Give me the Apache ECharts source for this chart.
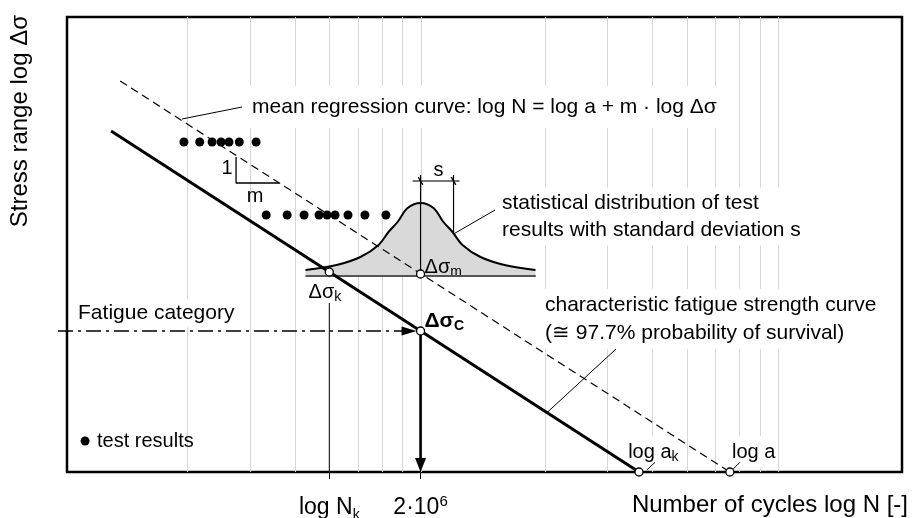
<!DOCTYPE html>
<html>
<head>
<meta charset="utf-8">
<title>Fatigue strength curve</title>
<script src="https://cdn.jsdelivr.net/npm/echarts@6/dist/echarts.min.js"></script>
<style>
  html, body { margin: 0; padding: 0; background: #fff; }
  #chart { width: 912px; height: 518px; }
</style>
</head>
<body>
<div id="chart"></div>
<script>
// x: number of cycles N on a log axis (schematic decades), y: log Δσ in schematic units
const gridLineValues = [2, 3, 4, 5, 6, 7, 8, 9, 20, 30, 40, 50, 60, 70, 80, 90];
const xTickValues = [5, 9];
const xTickLabels = ['{n|log N}{sub|k}', '{n|2·10}{sup|6}'];

// test results at two stress levels
const upperLevelN = [1.96, 2.17, 2.35, 2.49, 2.62, 2.8, 3.12];
const upperLevelStress = 330;
const lowerLevelN = [3.33, 3.81, 4.25, 4.68, 4.93, 5.19, 5.64, 6.29, 7.2];
const lowerLevelStress = 257;

// S-N lines
const meanCurve = [[1.3, 391], [66, 0]];
const characteristicCurve = [[1.226, 341], [36.75, 0]];

// distribution of test results around the mean curve at 2·10^6
const bellN = [4.29, 5.24, 6.11, 6.87, 7.32, 7.76, 8.28, 9, 9.78, 10.43, 11.06, 11.79, 13.24, 15.46, 18.87];
const bellStress = [202, 207, 215, 227, 240, 250, 264, 269, 264, 250, 240, 227, 215, 207, 202];
const bellBase = 196;
const bellBaseN = [4.29, 18.9];

// marked points: Δσk, Δσm, Δσc, log ak, log a
const markedPoints = [[5, 200], [9, 198], [9, 141], [36.75, 0], [66, 0]];

// slope triangle 1 : m
const slopeTriangle = [[2.742, 315], [2.742, 289], [3.618, 289]];

// standard deviation s
const sLines = [[[9, 198], [9, 297]], [[11.13, 240], [11.13, 297]]];
const sDimension = [[8.55, 291], [11.57, 291]];
const sMarkers = [[9, 291], [11.13, 291]];

// fatigue category: horizontal to Δσc, then down to 2·10^6
const arrows = [
  { from: [0.871, 141], to: [9, 141] },
  { from: [9, 141], to: [9, 0] }
];
const nkLine = [[5, 169], [5, 0]];

// leader lines from the notes to the curves
const leaders = [
  [[1.936, 353], [2.85, 365]],
  [[11.13, 238], [14.54, 262]],
  [[20.32, 59.4], [31.7, 123]],
  [[38.64, 2], [40.75, 9.7]],
  [[67.46, 3], [70.43, 9.7]]
];

const legendPoint = [1.037, 31];

const FONT = '"Liberation Sans", Arial, Helvetica, sans-serif';

const rich = {
  n: { fontFamily: FONT, fontSize: 23, lineHeight: 28, color: '#000' },
  sub: { fontFamily: FONT, fontSize: 14, lineHeight: 16, verticalAlign: 'bottom' },
  sup: { fontFamily: FONT, fontSize: 15, lineHeight: 6, verticalAlign: 'top', color: '#000' },
  b: { fontFamily: FONT, fontSize: 21, lineHeight: 24, fontWeight: 'bold' },
  bsub: { fontFamily: FONT, fontSize: 14, lineHeight: 14, fontWeight: 'bold', verticalAlign: 'bottom' }
};

// text notes, anchored in data coordinates
const notes = [
  { at: [3.04, 365], text: 'mean regression curve: log N = log a + m · log Δσ', pad: [9, 5] },
  { at: [2.587, 304], text: '1', align: 'center', size: 20 },
  { at: [3.099, 276], text: 'm', align: 'center', size: 20 },
  { at: [10.1, 302], text: 's', align: 'center', size: 20 },
  { at: [15.21, 255.5], text: 'statistical distribution of test\nresults with standard deviation s', lineHeight: 27, pad: [2, 5] },
  { at: [9.233, 205], text: 'Δσ{sub|m}', size: 20 },
  { at: [4.86, 180], text: 'Δσ{sub|k}', align: 'center', size: 20, pad: [2, 2] },
  { at: [9.233, 151], text: '{b|Δσ}{bsub|C}' },
  { at: [0.991, 159], text: 'Fatigue category', pad: [2, 3] },
  { at: [20.06, 153], text: 'characteristic fatigue strength curve\n(≅ 97.7% probability of survival)', lineHeight: 28, pad: [2, 5] },
  { at: [34.28, 20], text: 'log a{sub|k}', size: 20, pad: [4, 2] },
  { at: [66.9, 20], text: 'log a', size: 20, pad: [4, 2] },
  { at: [1.12, 31], text: 'test results', size: 20 }
];

const arrowStyles = [
  { width: 1.6, dash: [15, 5, 3, 5], startGap: 0, endGap: 4, head: 15, half: 4.5 },
  { width: 2.6, dash: null, startGap: 4, endGap: 0, head: 14, half: 5.5 }
];

function segment(points, lineStyle, z) {
  return {
    type: 'line', data: points, symbol: 'none', silent: true, clip: false, z: z || 5,
    lineStyle: Object.assign({ color: '#000', width: 1 }, lineStyle)
  };
}

const chart = echarts.init(document.getElementById('chart'));

const option = {
  animation: false,
  backgroundColor: '#fff',
  textStyle: { fontFamily: FONT },
  grid: {
    left: 67, right: 10, top: 17, bottom: 46, outerBoundsMode: 'none',
    show: true, borderColor: '#000', borderWidth: 2.5
  },
  xAxis: {
    type: 'log', logBase: 10, min: 0.923, max: 200,
    axisLine: { show: false },
    splitLine: { show: false },
    axisTick: { show: true, customValues: xTickValues, length: 7, lineStyle: { color: '#000', width: 1 } },
    axisLabel: {
      customValues: xTickValues, margin: 22, color: '#000', fontSize: 23, lineHeight: 28, fontFamily: FONT,
      formatter: (v) => {
        const i = xTickValues.findIndex((t) => Math.abs(t - v) < 1e-6 * t);
        return i < 0 ? '' : xTickLabels[i];
      },
      rich: rich
    },
    name: 'Number of cycles log N [-]',
    nameLocation: 'end', nameGap: 6,
    nameTextStyle: { color: '#000', fontSize: 24, align: 'right', verticalAlign: 'top', padding: [21, 0, 0, 0] }
  },
  yAxis: {
    type: 'value', min: 0, max: 455,
    axisLine: { show: false }, axisTick: { show: false }, axisLabel: { show: false }, splitLine: { show: false },
    name: 'Stress range log Δσ',
    nameLocation: 'end', nameGap: 2, nameRotate: 90,
    nameTextStyle: { color: '#000', fontSize: 24, align: 'right', verticalAlign: 'bottom', padding: [0, 0, 35, 0] }
  },
  series: [
    // light decade grid
    {
      type: 'custom', silent: true, z: 1,
      data: gridLineValues.map((v) => [v, 0]),
      renderItem: (params, api) => {
        const top = api.coord([api.value(0), 455]);
        const bottom = api.coord([api.value(0), 0]);
        const x = Math.round(top[0]) + 0.5;
        return { type: 'line', shape: { x1: x, y1: top[1], x2: x, y2: bottom[1] }, style: { stroke: '#d6d6d6', lineWidth: 1 } };
      }
    },
    // distribution of test results
    {
      type: 'line', silent: true, smooth: 0.35, symbol: 'none', z: 2,
      data: bellN.map((n, i) => [n, bellStress[i]]),
      lineStyle: { color: '#000', width: 2 },
      areaStyle: { color: '#d9d9d9', opacity: 1, origin: bellBase }
    },
    segment(bellBaseN.map((n) => [n, bellBase]), { color: '#555', width: 2 }, 3),
    // notes
    {
      type: 'custom', silent: true, z: 3,
      data: notes.map((n) => n.at),
      renderItem: (params, api) => {
        const n = notes[params.dataIndex];
        const p = api.coord(n.at);
        const align = n.align || 'left';
        const padX = n.pad ? n.pad[1] : 0;
        const dx = align === 'left' ? -padX : align === 'right' ? padX : 0;
        return {
          type: 'text', x: p[0] + dx, y: p[1],
          style: {
            text: n.text, rich: rich, fill: '#000', fontFamily: FONT, fontSize: n.size || 21,
            lineHeight: n.lineHeight || 24, align: align, verticalAlign: 'middle',
            backgroundColor: n.pad ? '#fff' : null, padding: n.pad || 0
          }
        };
      }
    },
    // S-N lines
    segment(meanCurve, { width: 1.2, type: [8, 5] }, 5),
    segment(characteristicCurve, { width: 3 }, 5),
    segment(slopeTriangle, { width: 1.3 }, 5),
    segment(nkLine, { width: 1 }, 5),
    segment(sDimension, { color: '#777', width: 2 }, 5),
    ...sLines.map((l) => segment(l, { width: 1.2 }, 5)),
    ...leaders.map((l) => segment(l, { width: 1 }, 5)),
    {
      type: 'scatter', silent: true, z: 6, symbol: 'rect', symbolSize: [1.3, 9], symbolRotate: 30,
      data: sMarkers, itemStyle: { color: '#000', opacity: 1 }
    },
    // fatigue category arrows
    {
      type: 'custom', silent: true, z: 6,
      data: arrows.map((a) => a.to),
      renderItem: (params, api) => {
        const a = arrows[params.dataIndex];
        const s = arrowStyles[params.dataIndex];
        const p1 = api.coord(a.from);
        const p2 = api.coord(a.to);
        const len = Math.hypot(p2[0] - p1[0], p2[1] - p1[1]);
        const ux = (p2[0] - p1[0]) / len;
        const uy = (p2[1] - p1[1]) / len;
        const start = [p1[0] + ux * s.startGap, p1[1] + uy * s.startGap];
        const tip = [p2[0] - ux * s.endGap, p2[1] - uy * s.endGap];
        const base = [tip[0] - ux * s.head, tip[1] - uy * s.head];
        return {
          type: 'group',
          children: [
            { type: 'line', shape: { x1: start[0], y1: start[1], x2: base[0] + ux * 2, y2: base[1] + uy * 2 },
              style: { stroke: '#000', lineWidth: s.width, lineDash: s.dash } },
            { type: 'polygon', shape: { points: [tip, [base[0] - uy * s.half, base[1] + ux * s.half], [base[0] + uy * s.half, base[1] - ux * s.half]] },
              style: { fill: '#000' } }
          ]
        };
      }
    },
    // test results
    {
      type: 'scatter', silent: true, z: 6, symbolSize: 9, itemStyle: { color: '#000', opacity: 1 },
      data: upperLevelN.map((n) => [n, upperLevelStress])
        .concat(lowerLevelN.map((n) => [n, lowerLevelStress]))
        .concat([legendPoint])
    },
    // marked points
    {
      type: 'scatter', silent: true, z: 10, clip: false, symbolSize: 8,
      itemStyle: { color: '#fff', borderColor: '#000', borderWidth: 1.3, opacity: 1 },
      data: markedPoints
    }
  ]
};

chart.setOption(option);
</script>
</body>
</html>
